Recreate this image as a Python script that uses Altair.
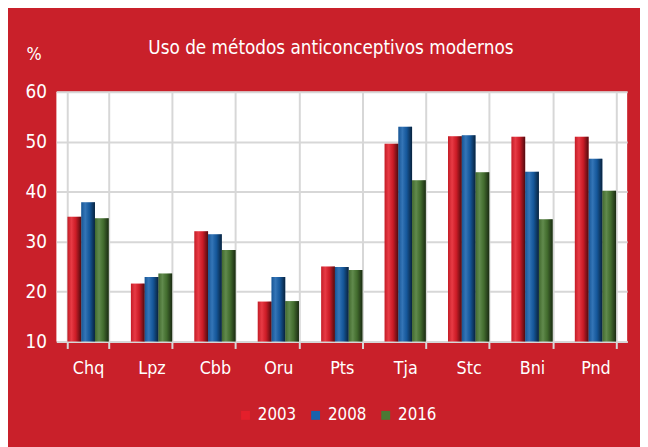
import altair as alt
import pandas as pd

categories = ["Chq", "Lpz", "Cbb", "Oru", "Pts", "Tja", "Stc", "Bni", "Pnd"]
years = ["2003", "2008", "2016"]
v2003 = [35.0, 21.6, 32.1, 18.0, 25.0, 49.6, 51.1, 51.0, 51.0]
v2008 = [37.9, 22.9, 31.5, 22.9, 24.9, 53.0, 51.3, 44.0, 46.6]
v2016 = [34.7, 23.6, 28.3, 18.1, 24.3, 42.3, 43.9, 34.5, 40.2]
y_ticks = [10, 20, 30, 40, 50, 60]

rows = []
for i, c in enumerate(categories):
    for y, vals in zip(years, [v2003, v2008, v2016]):
        rows.append({"cat": c, "year": y, "value": vals[i]})
df = pd.DataFrame(rows)

FONT = "DejaVu Sans Condensed, sans-serif"
RED_BG = "#c9202a"
GRID = "#d7d7d7"

x_enc = alt.X("cat:N", sort=categories, title=None,
              scale=alt.Scale(paddingInner=0.35, paddingOuter=0.175),
              axis=alt.Axis(tickBand="extent", grid=True, gridColor=GRID, gridWidth=2,
                            domainColor=GRID, domainWidth=2, tickColor=GRID, tickWidth=2,
                            tickSize=7, labelColor="white", labelFont=FONT, labelFontSize=18,
                            labelPadding=11, labelAngle=0))
xoff = alt.XOffset("year:N", sort=years, scale=alt.Scale(paddingInner=0, paddingOuter=0))
y_enc = alt.Y("value:Q", scale=alt.Scale(domain=[10, 60], zero=False, nice=False),
              axis=alt.Axis(values=y_ticks, grid=True, gridColor=GRID, gridWidth=2,
                            domain=False, ticks=False, labelColor="white", labelFont=FONT,
                            labelFontSize=19, labelPadding=10, title="%", titleAngle=0,
                            titleColor="white", titleFont=FONT, titleFontSize=18,
                            titleFontWeight="normal", titleX=-23, titleY=-33,
                            titleAlign="center", titleBaseline="alphabetic"))

base = alt.Chart(df).mark_bar().encode(
    x=x_enc,
    xOffset=xoff,
    y=y_enc,
    y2=alt.datum(10),
    color=alt.Color("year:N", sort=years,
                    scale=alt.Scale(domain=years, range=["#e41f2b", "#1862ad", "#4b7a34"]),
                    legend=alt.Legend(title=None, orient="none", direction="horizontal",
                                      legendX=183, legendY=319, symbolType="square",
                                      symbolSize=81, symbolStrokeWidth=0,
                                      labelColor="white", labelFont=FONT, labelFontSize=17,
                                      labelOffset=4, columnPadding=11)),
)

shade = alt.Chart(df).mark_bar(
    color=alt.Gradient(
        gradient="linear", x1=0, x2=1, y1=0, y2=0,
        stops=[
            alt.GradientStop(offset=0, color="rgba(0,0,0,0.15)"),
            alt.GradientStop(offset=0.3, color="rgba(255,255,255,0.12)"),
            alt.GradientStop(offset=0.6, color="rgba(0,0,0,0.1)"),
            alt.GradientStop(offset=1, color="rgba(0,0,0,0.65)"),
        ],
    )
).encode(x=alt.X("cat:N", sort=categories), xOffset=alt.XOffset("year:N", sort=years),
         y="value:Q", y2=alt.datum(10))

chart = alt.layer(base, shade).properties(
    width=578, height=253,
    padding={"left": 49, "top": 82, "right": 13, "bottom": 104},
    autosize=alt.AutoSizeParams(type="none"),
    background=RED_BG,
    title=alt.Title("Uso de métodos anticonceptivos modernos", color="white", font=FONT,
                    fontSize=19, fontWeight="normal", anchor="middle", dx=-11, offset=-13),
).configure_view(fill="white", stroke=None)

chart.save("out.html", embed_options={"renderer": "svg", "actions": False})
